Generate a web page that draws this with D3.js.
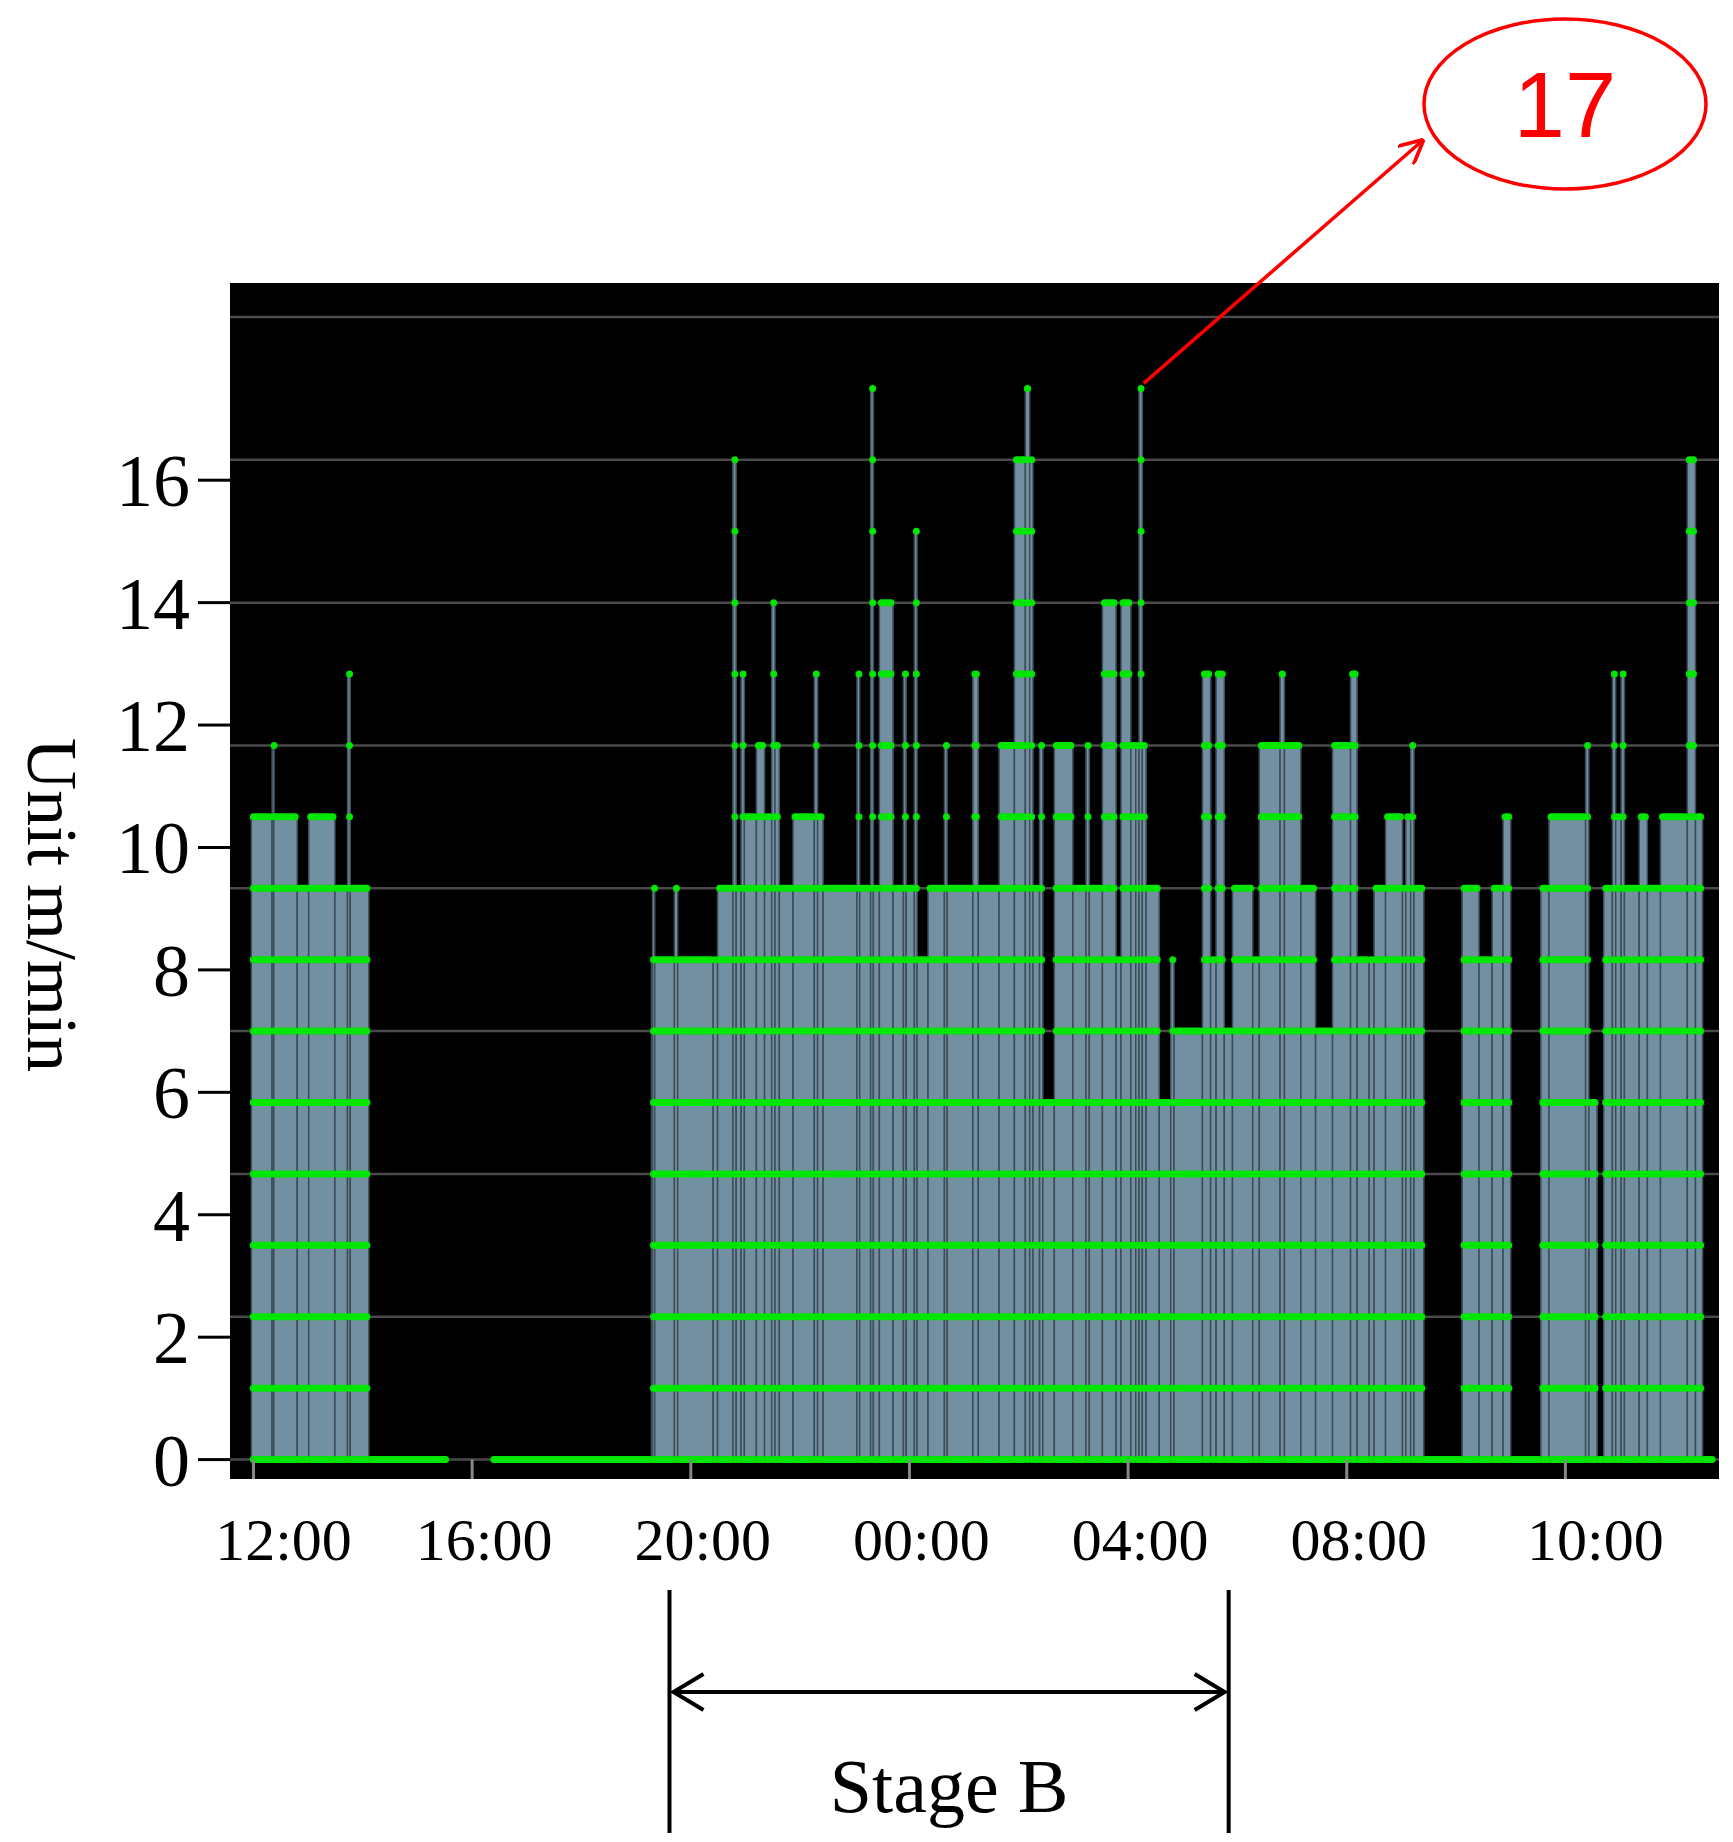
<!DOCTYPE html>
<html><head><meta charset="utf-8">
<script src="https://cdn.jsdelivr.net/npm/d3@7"></script>
<style>body{margin:0;background:#fff}svg{display:block}</style>
</head><body>
<svg id="c" width="1733" height="1842"></svg>
<script>
// speed is quantized in steps of 7/6 m/min
const STEP = 7/6;
// segments: [start hour, end hour, level (multiples of STEP)] ; hours continue past 24 for next day
const segStart = [11.96,12.34,12.37,12.80,13.01,13.49,13.72,13.77, 14.11,16.36,
 19.28,19.30,19.34,19.70,19.76,20.41,20.49,20.77,20.83,20.92,20.98,21.20,21.35,21.48,21.54,21.62,21.87,22.26,22.32,22.42,23.04,23.09,23.29,23.34,23.45,23.70,23.89,23.94,24.09,24.14,24.34,24.64,24.69,25.16,25.26,
 25.64,25.92,26.12,26.20,26.26,26.38,26.44,26.65,26.99,27.23,27.29,27.53,27.78,27.87,28.05,28.14,28.20,28.26,28.33,28.57,28.78,28.84,29.36,29.51,29.61,29.76,29.91,30.28,30.40,30.78,30.86,31.16,31.43,31.74,32.07,32.19,
 32.41,32.50,32.71,33.02,33.08,33.17,33.23,33.41,34.11,34.42,34.66,34.86,35.00,35.55,35.70,36.37,36.43,36.58,36.70,36.86,36.92,37.02,37.08,37.35,37.50,37.74,38.23,38.38,38.51];
const segEnd = [12.34,12.37,12.80,13.01,13.49,13.72,13.77,14.11, 15.55,19.28,
 19.30,19.34,19.70,19.76,20.41,20.49,20.77,20.83,20.92,20.98,21.20,21.35,21.48,21.54,21.62,21.87,22.26,22.32,22.42,23.04,23.09,23.29,23.34,23.45,23.70,23.89,23.94,24.09,24.14,24.34,24.64,24.69,25.16,25.26,25.64,
 25.92,26.12,26.20,26.26,26.38,26.44,26.65,26.99,27.23,27.29,27.53,27.78,27.87,28.05,28.14,28.20,28.26,28.33,28.57,28.78,28.84,29.36,29.51,29.61,29.76,29.91,30.28,30.40,30.78,30.86,31.16,31.43,31.74,32.07,32.19,32.41,
 32.50,32.71,33.02,33.08,33.17,33.23,33.41,34.11,34.42,34.66,34.86,35.00,35.55,35.70,36.37,36.43,36.58,36.70,36.86,36.92,37.02,37.08,37.35,37.50,37.74,38.23,38.38,38.51,38.72];
const segLevel = [9,10,9,8,9,8,11,8, 0,0,
 7,8,7,8,7,7,8,14,8,11,9,10,9,12,10,8,9,11,9,8,11,8,15,8,12,8,11,8,13,7,8,10,8,11,8,
 10,14,15,14,8,10,5,10,8,10,8,12,7,12,10,10,15,10,8,5,7,6,11,7,11,6,8,7,10,11,10,8,6,10,11,7,
 7,8,9,8,9,10,8,0,8,7,8,9,0,8,9,10,5,0,8,11,9,11,8,9,8,9,14,9,0];
const yTicks = [0,2,4,6,8,10,12,14,16];
const xTickHours = [12,16,20,24,28,32,36];
const xTickLabels = ["12:00","16:00","20:00","00:00","04:00","08:00","10:00"];
const peakHour = 28.23, peakLabel = "17";
const stageB = [19.61, 29.84], stageLabel = "Stage B";

const svg = d3.select("#c");
const L=230,R=1719,T=283,B=1479;
const x = d3.scaleLinear().domain([11.57,38.81]).range([L,R]);
const y = d3.scaleLinear().domain([0,49/3]).range([1459.6,459.8]);

svg.append("rect").attr("x",L).attr("y",T).attr("width",R-L).attr("height",B-T).attr("fill","#000");
// grid
const gridVals = d3.range(0,19,7/3);
svg.append("g").selectAll("line").data(gridVals).join("line")
 .attr("x1",L).attr("x2",R).attr("y1",d=>y(d)).attr("y2",d=>y(d))
 .attr("stroke","#4a4a4a").attr("stroke-width",2.5);

const segs = segStart.map((s,i)=>({s, e:segEnd[i], k:segLevel[i]}));
const g = svg.append("g");
g.selectAll("rect.bar").data(segs.filter(d=>d.k>0)).join("rect")
 .attr("x",d=>x(d.s)).attr("width",d=>Math.max(2,x(d.e)-x(d.s)))
 .attr("y",d=>y(d.k*STEP)).attr("height",d=>y(0)-y(d.k*STEP))
 .attr("fill","#7290a2").attr("stroke","#3d4d58").attr("stroke-width",1.5);
// green markers at each quantized level reached
const marks=[];
segs.forEach(d=>{for(let j=0;j<=d.k;j++) marks.push({s:d.s,e:d.e,v:j*STEP});});
g.selectAll("line.m").data(marks).join("line")
 .attr("x1",d=>x(d.s)+2).attr("x2",d=>Math.max(x(d.s)+2,x(d.e)-2))
 .attr("y1",d=>y(d.v)).attr("y2",d=>y(d.v))
 .attr("stroke","#00e600").attr("stroke-width",7).attr("stroke-linecap","round");

// small x ticks inside bottom
svg.append("g").selectAll("line").data(xTickHours).join("line")
 .attr("x1",d=>x(d)).attr("x2",d=>x(d)).attr("y1",y(0)).attr("y2",B)
 .attr("stroke","#888").attr("stroke-width",3);

// y axis
const ya = svg.append("g");
ya.selectAll("line").data(yTicks).join("line")
 .attr("x1",198).attr("x2",L).attr("y1",d=>y(d)).attr("y2",d=>y(d)).attr("stroke","#000").attr("stroke-width",3);
ya.selectAll("text").data(yTicks).join("text")
 .attr("x",190).attr("y",d=>y(d)).attr("dy","0.35em").attr("text-anchor","end")
 .attr("font-family","Liberation Serif").attr("font-size",74).text(d=>d);
svg.append("text").attr("transform","translate(28,905) rotate(90)").attr("text-anchor","middle")
 .attr("font-family","Liberation Serif").attr("font-size",72).text("Unit m/min");
// x labels
svg.append("g").selectAll("text").data(xTickHours).join("text")
 .attr("x",(d,i)=>x(d)+(i===0||i===6?30:12)).attr("y",1560).attr("text-anchor","middle")
 .attr("font-family","Liberation Serif").attr("font-size",60).text((d,i)=>xTickLabels[i]);

// annotation
const px=x(peakHour), py=y(15*STEP);
svg.append("defs").append("marker").attr("id","ah").attr("viewBox","0 0 10 10").attr("refX",9).attr("refY",5)
 .attr("markerWidth",7).attr("markerHeight",7).attr("orient","auto")
 .append("path").attr("d","M0,0L10,5L0,10").attr("fill","none").attr("stroke","red").attr("stroke-width",1.5);
svg.append("line").attr("x1",px+3).attr("y1",py-5).attr("x2",1422).attr("y2",141)
 .attr("stroke","red").attr("stroke-width",3.5).attr("marker-end","url(#ah)");
svg.append("ellipse").attr("cx",1565).attr("cy",104).attr("rx",141).attr("ry",85)
 .attr("fill","none").attr("stroke","red").attr("stroke-width",3.5);
svg.append("text").attr("x",1565).attr("y",104).attr("dy","0.36em").attr("text-anchor","middle")
 .attr("font-family","Liberation Sans").attr("font-size",92).attr("fill","red").text(peakLabel);

// Stage B
const sb = svg.append("g").attr("stroke","#000").attr("stroke-width",4).attr("fill","none");
stageB.forEach(h=>sb.append("line").attr("x1",x(h)).attr("x2",x(h)).attr("y1",1590).attr("y2",1833));
sb.append("line").attr("x1",x(stageB[0])+4).attr("x2",x(stageB[1])-4).attr("y1",1692).attr("y2",1692);
sb.append("path").attr("d",`M${x(stageB[0])+34},${1674}L${x(stageB[0])+4},1692L${x(stageB[0])+34},1710`);
sb.append("path").attr("d",`M${x(stageB[1])-34},${1674}L${x(stageB[1])-4},1692L${x(stageB[1])-34},1710`);
svg.append("text").attr("x",(x(stageB[0])+x(stageB[1]))/2).attr("y",1812).attr("text-anchor","middle")
 .attr("font-family","Liberation Serif").attr("font-size",76).text(stageLabel);
</script>
</body></html>
